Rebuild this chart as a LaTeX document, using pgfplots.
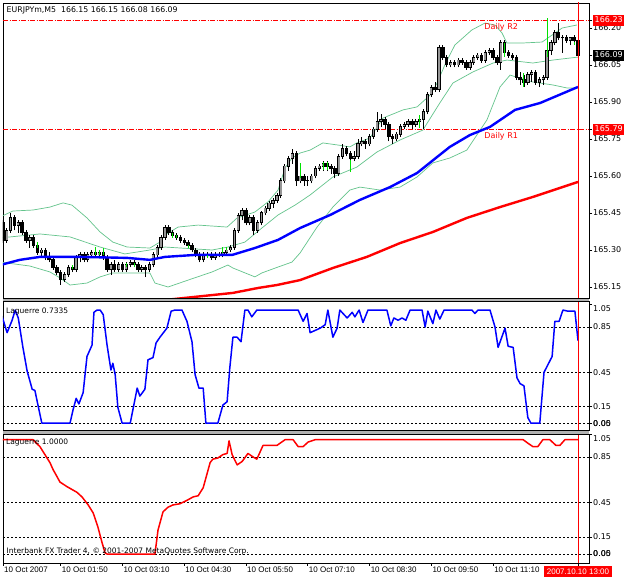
\documentclass[border=0pt]{standalone}
\usepackage{pgfplots}
\pgfplotsset{compat=1.18}
\usepackage{pgfplotstable}
\usepackage{fontspec}
\setmainfont{DejaVu Sans}
\newfontfamily\timefont{Liberation Sans}
\definecolor{band}{RGB}{100,196,140}
\definecolor{fractal}{RGB}{0,225,0}
\definecolor{bull}{RGB}{150,150,150}
\setlength{\fboxsep}{1.5pt}
\newcommand\pbox[2]{\colorbox{#1}{\color{white}\rule[-2pt]{0pt}{7.5pt}#2}}

\pgfplotstableread{
i o h l c
7 165.41 165.42 165.33 165.34
8 165.34 165.39 165.33 165.38
9 165.38 165.45 165.37 165.43
10 165.43 165.44 165.38 165.40
11 165.40 165.42 165.37 165.41
12 165.41 165.42 165.36 165.37
13 165.37 165.38 165.33 165.34
14 165.34 165.36 165.31 165.35
15 165.35 165.36 165.31 165.32
16 165.32 165.33 165.28 165.29
17 165.29 165.31 165.27 165.30
18 165.30 165.31 165.26 165.27
19 165.27 165.29 165.25 165.26
20 165.26 165.27 165.22 165.23
21 165.23 165.24 165.20 165.21
22 165.21 165.22 165.16 165.18
23 165.18 165.21 165.17 165.20
24 165.20 165.24 165.19 165.23
25 165.23 165.24 165.21 165.22
26 165.22 165.28 165.21 165.27
27 165.27 165.29 165.25 165.28
28 165.28 165.29 165.25 165.26
29 165.26 165.29 165.25 165.28
30 165.28 165.30 165.27 165.29
31 165.29 165.30 165.27 165.28
32 165.28 165.30 165.27 165.29
33 165.29 165.30 165.26 165.27
34 165.27 165.28 165.21 165.22
35 165.22 165.25 165.20 165.24
36 165.24 165.26 165.21 165.22
37 165.22 165.25 165.21 165.24
38 165.24 165.25 165.21 165.22
39 165.22 165.25 165.21 165.24
40 165.24 165.26 165.23 165.25
41 165.25 165.26 165.23 165.24
42 165.24 165.25 165.21 165.22
43 165.22 165.24 165.21 165.23
44 165.23 165.24 165.19 165.22
45 165.22 165.25 165.21 165.24
46 165.24 165.29 165.23 165.28
47 165.28 165.32 165.27 165.31
48 165.31 165.36 165.30 165.35
49 165.35 165.40 165.34 165.39
50 165.39 165.40 165.36 165.37
51 165.37 165.38 165.35 165.36
52 165.36 165.37 165.34 165.35
53 165.35 165.36 165.33 165.34
54 165.34 165.35 165.32 165.33
55 165.33 165.34 165.31 165.32
56 165.32 165.33 165.29 165.30
57 165.30 165.31 165.27 165.28
58 165.28 165.29 165.25 165.26
59 165.26 165.29 165.25 165.28
60 165.28 165.29 165.27 165.28
61 165.28 165.29 165.26 165.27
62 165.27 165.29 165.26 165.28
63 165.28 165.29 165.27 165.28
64 165.28 165.30 165.27 165.29
65 165.29 165.31 165.28 165.30
66 165.30 165.32 165.29 165.31
67 165.31 165.39 165.30 165.38
68 165.38 165.45 165.37 165.44
69 165.44 165.47 165.42 165.46
70 165.46 165.47 165.40 165.41
71 165.41 165.44 165.40 165.43
72 165.43 165.44 165.36 165.38
73 165.38 165.42 165.37 165.41
74 165.41 165.46 165.40 165.45
75 165.45 165.48 165.44 165.47
76 165.47 165.50 165.46 165.49
77 165.49 165.51 165.47 165.50
78 165.50 165.53 165.49 165.52
79 165.52 165.59 165.51 165.58
80 165.58 165.65 165.57 165.64
81 165.64 165.68 165.62 165.67
82 165.67 165.71 165.65 165.69
83 165.69 165.70 165.56 165.58
84 165.58 165.61 165.57 165.60
85 165.60 165.61 165.56 165.58
86 165.58 165.60 165.56 165.58
87 165.58 165.61 165.57 165.60
88 165.60 165.64 165.59 165.63
89 165.63 165.65 165.62 165.64
90 165.64 165.66 165.62 165.65
91 165.65 165.66 165.62 165.64
92 165.64 165.65 165.61 165.63
93 165.63 165.64 165.59 165.61
94 165.61 165.69 165.60 165.68
95 165.68 165.73 165.67 165.71
96 165.71 165.72 165.68 165.69
97 165.69 165.70 165.65 165.67
98 165.67 165.70 165.66 165.68
99 165.68 165.75 165.67 165.73
100 165.73 165.76 165.72 165.74
101 165.74 165.75 165.71 165.73
102 165.73 165.77 165.72 165.76
103 165.76 165.80 165.75 165.79
104 165.79 165.86 165.78 165.82
105 165.82 165.85 165.80 165.83
106 165.83 165.84 165.79 165.81
107 165.81 165.82 165.74 165.76
108 165.76 165.77 165.73 165.75
109 165.75 165.78 165.74 165.77
110 165.77 165.81 165.76 165.80
111 165.80 165.82 165.79 165.81
112 165.81 165.83 165.80 165.82
113 165.82 165.83 165.79 165.81
114 165.81 165.83 165.80 165.82
115 165.82 165.84 165.80 165.83
116 165.83 165.87 165.79 165.86
117 165.86 165.94 165.85 165.93
118 165.93 165.97 165.92 165.96
119 165.96 165.98 165.94 165.95
120 165.95 166.13 165.94 166.12
121 166.12 166.13 166.07 166.08
122 166.08 166.09 166.04 166.05
123 166.05 166.07 166.04 166.06
124 166.06 166.07 166.04 166.05
125 166.05 166.08 166.04 166.07
126 166.07 166.08 166.05 166.06
127 166.06 166.07 166.03 166.04
128 166.04 166.07 166.03 166.06
129 166.06 166.09 166.05 166.08
130 166.08 166.10 166.07 166.09
131 166.09 166.10 166.06 166.07
132 166.07 166.11 166.06 166.10
133 166.10 166.12 166.09 166.11
134 166.11 166.12 166.07 166.08
135 166.08 166.09 166.05 166.06
136 166.06 166.15 166.03 166.14
137 166.14 166.15 166.09 166.10
138 166.10 166.11 166.08 166.09
139 166.09 166.10 166.07 166.08
140 166.08 166.09 165.99 166.00
141 166.00 166.02 165.97 165.99
142 165.99 166.01 165.96 165.98
143 165.98 166.02 165.97 166.01
144 166.01 166.03 165.98 166.02
145 166.02 166.03 165.97 165.98
146 165.98 166.00 165.96 165.99
147 165.99 166.01 165.97 166.00
148 166.00 166.12 165.99 166.11
149 166.11 166.15 166.09 166.14
150 166.14 166.19 166.13 166.18
151 166.18 166.22 166.15 166.16
152 166.16 166.17 166.10 166.16
153 166.16 166.17 166.14 166.15
154 166.15 166.16 166.13 166.16
155 166.16 166.17 166.14 166.15
156 166.15 166.15 166.08 166.09
}\candles

\pgfplotstableread{
i lo hi
16 165.308 165.332
25 165.223 165.239
31 165.280 165.312
32 165.280 165.300
33 165.280 165.308
39 165.231 165.247
41 165.231 165.247
51 165.349 165.369
52 165.349 165.361
55 165.308 165.320
60 165.268 165.280
64 165.288 165.312
65 165.300 165.312
84 165.592 165.653
90 165.624 165.657
91 165.624 165.657
97 165.616 165.665
115 165.795 165.847
137 166.082 166.139
142 165.961 166.018
148 166.082 166.240
155 166.131 166.143
}\fractals

\begin{document}
\begin{tikzpicture}[x=1pt,y=1pt]
\useasboundingbox (0,0) rectangle (625,-577);
\pgfplotsset{
  pane/.style={scale only axis, width=586pt, xmin=7.04, xmax=158.85, anchor=north west,
    axis line style={line width=0.6pt}, tick style={black,line width=0.6pt},
    tick align=outside, major tick length=3pt,
    ytick pos=right, yticklabel pos=right,
    yticklabel style={font=\fontsize{8}{9}\selectfont, anchor=west, inner sep=1pt},
    clip=true, axis background/.style={fill=white}},
  wick/.style n args={2}{draw=none, mark=none, forget plot,
    error bars/.cd, y dir=plus, y explicit, error mark=none,
    error bar style={draw=#1, line width=#2}},
}
% ---------------- main price pane ----------------
\begin{axis}[pane, name=main, at={(3pt,-3pt)}, height=295pt,
  ymin=165.1054, ymax=166.3013, xtick=\empty,
  ytick={165.15,165.30,165.45,165.60,165.75,165.90,166.05,166.20},
  yticklabels={165.15,165.30,165.45,165.60,165.75,165.90,166.05,166.20},
  extra y ticks={166.23,166.09,165.79},
  extra y tick labels={\pbox{red}{166.23},\pbox{black}{166.09},\pbox{red}{165.79}},
  extra y tick style={yticklabel style={inner sep=0pt, xshift=1pt}}]
% pivot lines
\addplot[red, line width=0.8pt, dash pattern=on 5pt off 1.5pt on 1pt off 1.5pt] coordinates {(7.04,166.23)(158.85,166.23)};
\addplot[red, line width=0.8pt, dash pattern=on 5pt off 1.5pt on 1pt off 1.5pt] coordinates {(7.04,165.79)(158.85,165.79)};
% bands
\addplot[band, line width=0.7pt] table {
6.3 165.434
9.6 165.458
14.8 165.462
19.2 165.474
22.6 165.491
24.9 165.482
28.8 165.430
32.2 165.373
35.5 165.332
39.2 165.312
45.1 165.308
47.7 165.332
49.0 165.361
52.4 165.393
57.6 165.401
65.1 165.393
67.7 165.430
72.3 165.454
75.7 165.495
78.3 165.543
80.1 165.632
81.9 165.673
84.0 165.693
86.6 165.705
89.9 165.734
93.6 165.726
96.9 165.718
98.7 165.734
102.1 165.754
105.5 165.835
110.7 165.868
114.3 165.880
117.7 165.928
119.5 165.977
121.5 166.050
124.1 166.131
128.5 166.192
131.9 166.220
134.5 166.212
136.3 166.180
137.6 166.139
141.5 166.139
146.7 166.143
151.9 166.200
155.7 166.212
};
\addplot[band, line width=0.7pt] table {
6.3 165.349
16.6 165.365
24.4 165.353
32.2 165.312
38.6 165.284
45.1 165.300
49.0 165.312
61.2 165.300
65.3 165.312
69.7 165.332
74.1 165.389
78.3 165.442
82.7 165.482
86.6 165.523
92.5 165.596
98.7 165.636
103.9 165.697
109.9 165.746
115.8 165.786
120.2 165.896
123.6 165.977
128.8 166.022
134.0 166.058
137.6 166.070
144.3 166.058
149.5 166.070
156.0 166.082
};
\addplot[band, line width=0.7pt] table {
6.3 165.251
14.0 165.235
19.2 165.211
21.8 165.187
24.4 165.158
28.8 165.166
32.2 165.191
35.5 165.207
45.1 165.207
46.4 165.166
49.8 165.150
55.0 165.178
61.2 165.211
65.3 165.239
66.6 165.227
72.3 165.191
74.1 165.207
78.3 165.231
81.9 165.251
84.0 165.288
88.4 165.393
92.5 165.474
96.9 165.543
99.5 165.555
104.7 165.543
109.9 165.555
114.3 165.596
118.4 165.653
122.8 165.673
127.2 165.705
132.4 165.827
135.8 165.961
138.4 166.009
144.3 165.981
149.5 165.969
153.1 165.957
156.0 165.957
};
% candles: wicks, bodies, bull fill
\addplot[wick={black}{0.8pt}] table[x=i, y=l, y error expr=\thisrow{h}-\thisrow{l}] {\candles};
\addplot[wick={black}{3.4pt}]
  table[x=i, y expr={min(\thisrow{o},\thisrow{c})-0.002}, y error expr={abs(\thisrow{c}-\thisrow{o})+0.004}] {\candles};
\addplot[restrict expr to domain={\thisrow{c}-\thisrow{o}}{0.005:10}, wick={bull}{1.8pt}]
  table[x=i, y expr={\thisrow{o}+0.0015}, y error expr={\thisrow{c}-\thisrow{o}-0.003}] {\candles};
% moving averages
\addplot[red, line width=2.4pt] table {
45.0 165.091
53.7 165.105
66.6 165.126
73.1 165.146
78.0 165.158
84.0 165.178
92.5 165.227
101.3 165.272
109.9 165.328
118.4 165.373
127.2 165.430
135.8 165.474
144.3 165.515
156.0 165.576
};
\addplot[blue, line width=2.4pt] table {
6.3 165.239
11.4 165.260
16.6 165.272
27.0 165.272
39.2 165.268
45.1 165.260
49.0 165.272
56.8 165.280
66.4 165.280
72.3 165.308
78.3 165.341
84.0 165.389
91.8 165.442
99.5 165.503
107.3 165.555
114.3 165.612
119.5 165.677
122.8 165.718
128.0 165.766
133.2 165.799
139.7 165.868
146.2 165.896
156.0 165.961
};
% fractals
\addplot[wick={fractal}{1pt}] table[x=i, y=lo, y error expr=\thisrow{hi}-\thisrow{lo}] {\fractals};
% current bar line
\addplot[red, line width=0.8pt] coordinates {(156,165.0)(156,166.4)};
\node[anchor=north west, inner sep=0pt, font=\fontsize{7.8}{9}\selectfont, xshift=3.5pt, yshift=-4pt] at (rel axis cs:0,1) {EURJPYm,M5\ \ 166.15 166.15 166.08 166.09};
\node[red, inner sep=0pt, font=\fontsize{8}{9}\selectfont] at (axis cs:136.1,166.204) {Daily R2};
\node[red, inner sep=0pt, font=\fontsize{8}{9}\selectfont] at (axis cs:136.1,165.762) {Daily R1};
\end{axis}
% ---------------- Laguerre pane 1 ----------------
\begin{axis}[pane, name=lag1, at={(3pt,-301pt)}, height=129pt,
  ymin=-0.06, ymax=1.08, xtick=\empty,
  ytick={0,0.15,0.45,0.85}, yticklabels={{\rlap{0.00}0.05},0.15,0.45,0.85},
  extra y ticks={1.05}, extra y tick labels={1.05},
  extra y tick style={yticklabel style={yshift=-4.5pt}}]
\addplot[black, line width=0.6pt, dash pattern=on 2pt off 2pt] coordinates {(7.04,0.85)(158.85,0.85)};
\addplot[black, line width=0.6pt, dash pattern=on 2pt off 2pt] coordinates {(7.04,0.45)(158.85,0.45)};
\addplot[black, line width=0.6pt, dash pattern=on 2pt off 2pt] coordinates {(7.04,0.15)(158.85,0.15)};
\addplot[black, line width=0.6pt, dash pattern=on 2pt off 2pt] coordinates {(7.04,0)(158.85,0)};
\addplot[blue, line width=1.5pt, line join=round] table {
6.3 1.00
8.1 0.80
9.4 0.91
10.2 1.00
11.0 0.93
12.2 0.67
13.3 0.46
14.6 0.30
15.3 0.29
16.1 0.16
17.1 0.00
24.4 0.00
25.2 0.12
26.0 0.22
26.7 0.17
27.8 0.27
28.8 0.59
30.1 0.69
30.6 0.98
31.4 1.00
32.2 1.00
33.0 0.96
34.0 0.69
35.0 0.47
35.5 0.53
36.1 0.43
36.8 0.14
37.9 0.00
40.0 0.00
40.7 0.12
41.8 0.31
42.5 0.24
43.8 0.30
44.6 0.56
45.9 0.58
46.7 0.71
47.7 0.76
49.5 0.84
50.6 0.99
51.6 1.00
53.4 1.00
54.7 0.90
56.0 0.72
56.8 0.43
57.8 0.31
58.9 0.31
59.6 0.00
62.7 0.00
64.0 0.16
65.1 0.19
65.8 0.49
66.6 0.76
67.7 0.76
68.7 0.72
69.7 1.00
70.5 1.00
71.5 0.94
72.8 1.00
83.5 1.00
84.8 0.90
85.8 0.97
86.6 0.80
89.2 0.84
90.5 0.87
91.2 1.00
92.5 0.76
93.6 0.84
94.3 1.00
96.2 0.93
97.5 0.98
98.2 0.94
99.3 1.00
100.3 0.89
101.6 1.00
106.5 1.00
107.5 0.86
108.3 0.93
109.4 0.91
110.4 0.93
111.4 0.91
112.5 1.00
115.6 1.00
116.4 0.85
117.1 0.99
118.4 0.88
119.2 1.00
120.2 0.92
121.3 1.00
128.5 1.00
129.3 0.97
130.1 1.00
133.2 1.00
134.5 0.85
135.3 0.67
137.1 0.84
137.9 0.68
139.2 0.67
140.2 0.40
141.0 0.35
142.0 0.33
143.0 0.05
143.8 0.00
146.1 0.00
147.2 0.45
149.3 0.59
150.0 0.90
151.1 0.90
152.1 1.00
153.4 0.99
155.2 0.99
156.0 0.73
};
\addplot[red, line width=0.8pt] coordinates {(156,-0.2)(156,1.2)};
\node[anchor=north west, inner sep=0pt, font=\fontsize{7.5}{9}\selectfont, xshift=3pt, yshift=-7pt] at (rel axis cs:0,1) {Laguerre 0.7335};
\end{axis}
% ---------------- Laguerre pane 2 ----------------
\begin{axis}[pane, name=lag2, at={(3pt,-434pt)}, height=129pt,
  ymin=-0.078, ymax=1.05,
  ytick={0,0.15,0.45,0.85}, yticklabels={{\rlap{0.00}0.05},0.15,0.45,0.85},
  extra y ticks={1.05}, extra y tick labels={1.05},
  extra y tick style={yticklabel style={yshift=-5pt}},
  xtick pos=bottom,
  xtick={7.04,22,38,54,70,86,102,118,134},
  xticklabels={10 Oct 2007,10 Oct 01:50,10 Oct 03:10,10 Oct 04:30,10 Oct 05:50,10 Oct 07:10,10 Oct 08:30,10 Oct 09:50,10 Oct 11:10},
  xticklabel style={font=\timefont\fontsize{8}{9}\selectfont, anchor=north west, inner sep=1pt},
  extra x ticks={156},
  extra x tick labels={{\setlength{\fboxsep}{2pt}\colorbox{red}{\color{white}\rule[-2pt]{0pt}{8pt}\hspace{1pt}2007.10.10 13:00\hspace{1pt}}}},
  extra x tick style={xticklabel style={anchor=north, inner sep=0pt}}]
\addplot[black, line width=0.6pt, dash pattern=on 2pt off 2pt] coordinates {(7.04,0.85)(158.85,0.85)};
\addplot[black, line width=0.6pt, dash pattern=on 2pt off 2pt] coordinates {(7.04,0.45)(158.85,0.45)};
\addplot[black, line width=0.6pt, dash pattern=on 2pt off 2pt] coordinates {(7.04,0.15)(158.85,0.15)};
\addplot[black, line width=0.6pt, dash pattern=on 2pt off 2pt] coordinates {(7.04,0)(158.85,0)};
\addplot[red, line width=1.5pt, line join=round] table {
6.3 0.98
7.0 1.00
14.8 1.00
16.6 0.94
17.9 0.87
19.2 0.80
20.0 0.74
21.8 0.63
23.6 0.59
26.2 0.54
27.5 0.50
29.1 0.43
30.4 0.36
31.6 0.24
32.7 0.10
33.5 0.01
34.0 0.00
46.4 0.00
47.2 0.21
48.5 0.37
49.8 0.41
51.1 0.43
52.9 0.44
54.7 0.47
56.3 0.50
57.6 0.51
58.9 0.58
60.7 0.80
61.4 0.83
62.7 0.84
64.0 0.87
65.1 0.88
65.6 0.99
66.4 0.87
67.7 0.78
69.0 0.81
70.5 0.88
71.8 0.85
72.8 0.83
74.4 0.95
78.0 0.95
80.1 1.00
82.2 1.00
83.5 0.94
84.8 0.94
86.1 0.98
87.9 1.00
141.8 1.00
143.0 0.97
144.3 0.94
145.6 0.94
146.9 1.00
148.7 1.00
150.3 0.95
151.3 0.95
152.6 1.00
156.0 1.00
};
\addplot[red, line width=0.8pt] coordinates {(156,-0.2)(156,1.2)};
\node[anchor=north west, inner sep=0pt, font=\fontsize{7.5}{9}\selectfont, xshift=3pt, yshift=-5pt] at (rel axis cs:0,1) {Laguerre 1.0000};
\node[anchor=south west, inner sep=0pt, font=\fontsize{7.5}{9}\selectfont, xshift=3.5pt, yshift=8pt] at (rel axis cs:0,0) {Interbank FX Trader 4, © 2001-2007 MetaQuotes Software Corp.};
\end{axis}
% pane separators
\fill[gray!60] (main.south west) rectangle (lag1.north east);
\fill[gray!60] (lag1.south west) rectangle (lag2.north east);
\draw[black, line width=0.6pt] (main.south west) -- (main.south east);
\draw[black, line width=0.6pt] (lag1.north west) -- (lag1.north east);
\draw[black, line width=0.6pt] (lag1.south west) -- (lag1.south east);
\draw[black, line width=0.6pt] (lag2.north west) -- (lag2.north east);
\end{tikzpicture}
\end{document}
